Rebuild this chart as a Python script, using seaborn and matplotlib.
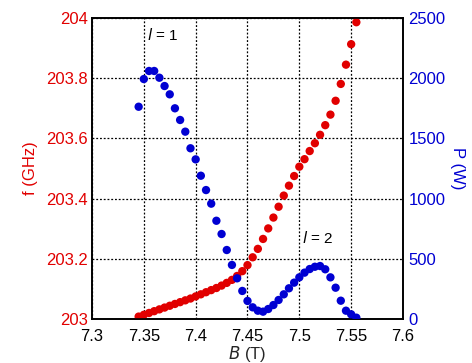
import numpy as np
import pandas as pd
import matplotlib
matplotlib.use("Agg")
import matplotlib.pyplot as plt
import seaborn as sns

# Data
B_field = [round(7.345 + 0.005 * k, 3) for k in range(43)]
freq_GHz = [203.008, 203.014, 203.020, 203.026, 203.032, 203.038, 203.044, 203.050,
            203.056, 203.062, 203.068, 203.075, 203.082, 203.089, 203.096, 203.103,
            203.111, 203.120, 203.130, 203.143, 203.159, 203.179, 203.205, 203.233,
            203.266, 203.301, 203.337, 203.373, 203.410, 203.443, 203.475, 203.506,
            203.531, 203.558, 203.584, 203.612, 203.644, 203.679, 203.725, 203.781,
            203.845, 203.913, 203.986]
power_W = [1763, 1993, 2060, 2060, 2004, 1935, 1866, 1750, 1653, 1556, 1418, 1326,
           1190, 1071, 958, 816, 706, 573, 449, 338, 233, 150,
           97, 69, 61, 83, 116, 158, 205, 255, 302, 346, 385, 415, 434, 440, 413,
           346, 260, 152, 69, 39, 11]
x_ticks = [7.3, 7.35, 7.4, 7.45, 7.5, 7.55, 7.6]
x_tick_labels = ["7.3", "7.35", "7.4", "7.45", "7.5", "7.55", "7.6"]
f_ticks = [203, 203.2, 203.4, 203.6, 203.8, 204]
f_tick_labels = ["203", "203.2", "203.4", "203.6", "203.8", "204"]
p_ticks = [0, 500, 1000, 1500, 2000, 2500]

df = pd.DataFrame({"B": B_field, "f": freq_GHz, "P": power_W})

sns.set_style("white")
plt.rcParams['font.family'] = ['Liberation Sans', 'DejaVu Sans']

RED = "#e10000"
BLUE = "#0000d2"

fig = plt.figure(figsize=(4.72, 3.63), dpi=100)
ax = fig.add_axes([0.1949, 0.1212, 0.6589, 0.8292])
ax2 = ax.twinx()

sns.scatterplot(data=df, x="B", y="f", ax=ax, color=RED, s=36, edgecolor="none", zorder=3)
sns.scatterplot(data=df, x="B", y="P", ax=ax2, color=BLUE, s=36, edgecolor="none", zorder=3)

ax.set_xlim(7.3, 7.6)
ax.set_ylim(203, 204)
ax2.set_ylim(0, 2500)

ax.set_xticks(x_ticks)
ax.set_xticklabels(x_tick_labels, fontsize=12, color="black")
ax.set_yticks(f_ticks)
ax.set_yticklabels(f_tick_labels, fontsize=12, color=RED)
ax2.set_yticks(p_ticks)
ax2.set_yticklabels([str(p) for p in p_ticks], fontsize=12, color=BLUE)

ax.tick_params(axis="x", direction="in", length=5, width=1, top=False, pad=7)
ax.tick_params(axis="y", length=0, pad=3)
ax2.tick_params(axis="y", length=0, pad=4)

ax.grid(True, linestyle=(0, (1.5, 1.5)), color="black", linewidth=0.9)
ax.set_axisbelow(True)

for a in (ax, ax2):
    for sp in a.spines.values():
        sp.set_color("black")
        sp.set_linewidth(1.2)
        sp.set_visible(True)

ax.set_xlabel("$B$ (T)", fontsize=12, labelpad=0)
ax.set_ylabel("f (GHz)", fontsize=12, color=RED, labelpad=6)
ax2.set_ylabel("P (W)", fontsize=12, color=BLUE, rotation=270, labelpad=14)

ax2.text(7.3535, 2360, "$l$ = 1", fontsize=11, color="black", ha="left", va="center", zorder=5)
ax2.text(7.5025, 670, "$l$ = 2", fontsize=11, color="black", ha="left", va="center", zorder=5)

fig.savefig("out.png", dpi=100)
